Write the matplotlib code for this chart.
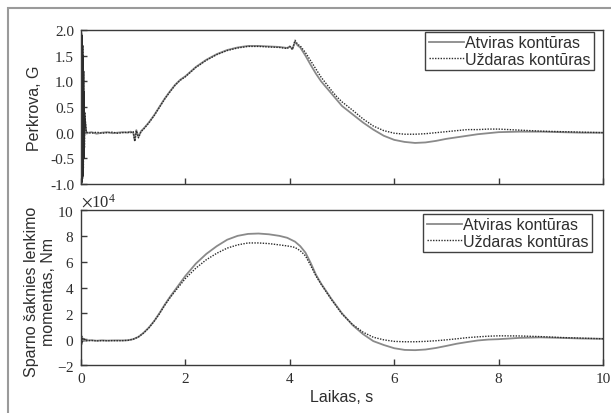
import matplotlib
matplotlib.use("Agg")
import matplotlib.pyplot as plt
from matplotlib.patches import Rectangle
from matplotlib.ticker import ScalarFormatter

# Perkrova (G) - laikas, s
t_g_open = [0.0, 0.03, 0.1, 0.2, 0.3, 0.4, 0.5, 0.6, 0.7, 0.8, 0.9,
            0.95, 1.0, 1.03, 1.06, 1.1, 1.15, 1.2, 1.3, 1.4, 1.5, 1.6, 1.7, 1.8, 1.9, 2.0,
            2.2, 2.4, 2.6, 2.8, 3.0, 3.2, 3.4, 3.6, 3.8, 3.95, 4.0, 4.05, 4.1, 4.15, 4.2,
            4.3, 4.4, 4.5, 4.6, 4.7, 4.8, 4.9, 5.0, 5.2, 5.4, 5.6, 5.8, 6.0, 6.2, 6.4,
            6.6, 6.8, 7.0, 7.2, 7.4, 7.6, 7.8, 8.0, 8.4, 8.8, 9.2, 9.6, 10.0]
g_open = [0.02, -0.01, -0.01, 0.01, -0.02, 0.0, 0.01, -0.01, 0.0, 0.01, 0.0,
          0.02, 0.0, -0.15, 0.05, -0.08, 0.03, 0.08, 0.2, 0.34, 0.5, 0.66, 0.8, 0.93, 1.03, 1.1,
          1.28, 1.42, 1.53, 1.61, 1.66, 1.69, 1.69, 1.68, 1.67, 1.65, 1.68, 1.63, 1.77, 1.7, 1.66,
          1.5, 1.32, 1.15, 1.0, 0.88, 0.76, 0.64, 0.52, 0.36, 0.2, 0.06, -0.06, -0.14, -0.18, -0.2,
          -0.19, -0.16, -0.12, -0.09, -0.06, -0.03, -0.01, 0.01, 0.02, 0.02, 0.01, 0.0, 0.0]

t_g_closed = [0.0, 0.004, 0.008, 0.012, 0.016, 0.02, 0.024, 0.028, 0.032, 0.036, 0.04, 0.045,
              0.05, 0.055, 0.06, 0.065, 0.07, 0.1, 0.2, 0.3, 0.4, 0.5, 0.6, 0.7, 0.8, 0.9,
              0.95, 1.0, 1.03, 1.06, 1.1, 1.15, 1.2, 1.3, 1.4, 1.5, 1.6, 1.7, 1.8, 1.9, 2.0,
              2.2, 2.4, 2.6, 2.8, 3.0, 3.2, 3.4, 3.6, 3.8, 3.95, 4.0, 4.05, 4.1, 4.15, 4.2,
              4.3, 4.4, 4.5, 4.6, 4.7, 4.8, 4.9, 5.0, 5.2, 5.4, 5.6, 5.8, 6.0, 6.2, 6.4,
              6.6, 6.8, 7.0, 7.2, 7.4, 7.6, 7.8, 8.0, 8.4, 8.8, 9.2, 9.6, 10.0]
g_closed = [2.0, -1.0, 1.95, -0.98, 1.9, -0.95, 1.85, -0.9, 1.7, -0.85, 1.5, -0.7,
            1.2, -0.5, 0.8, -0.3, 0.4, 0.01, -0.01, 0.01, -0.01, 0.0, 0.01, -0.01, 0.0, 0.01,
            0.0, 0.02, -0.17, 0.04, -0.1, 0.02, 0.07, 0.19, 0.33, 0.49, 0.65, 0.79, 0.92, 1.02, 1.09,
            1.27, 1.41, 1.52, 1.6, 1.65, 1.68, 1.68, 1.67, 1.66, 1.64, 1.68, 1.62, 1.8, 1.72, 1.69,
            1.56, 1.4, 1.24, 1.08, 0.95, 0.82, 0.7, 0.6, 0.44, 0.27, 0.13, 0.04, -0.01, -0.03, -0.03,
            -0.02, 0.0, 0.02, 0.04, 0.06, 0.06, 0.07, 0.07, 0.05, 0.03, 0.02, 0.01, 0.0]
n_start_burst = 18  # first samples of the closed-loop record (start-up transient)

# Sparno šaknies lenkimo momentas, Nm
t_m = [0.0, 0.01, 0.02, 0.04, 0.1, 0.2, 0.3, 0.4, 0.5, 0.6, 0.7, 0.8, 0.9, 1.0, 1.1,
       1.2, 1.3, 1.4, 1.5, 1.6, 1.7, 1.8, 1.9, 2.0, 2.2, 2.4, 2.6, 2.8, 3.0, 3.2,
       3.4, 3.6, 3.8, 3.95, 4.05, 4.1, 4.2, 4.3, 4.4, 4.5, 4.6, 4.7, 4.8, 4.9, 5.0,
       5.2, 5.4, 5.6, 5.8, 6.0, 6.2, 6.4, 6.6, 6.8, 7.0, 7.2, 7.4, 7.6, 7.8, 8.0,
       8.4, 8.8, 9.2, 9.6, 10.0]
m_open = [3000, -4000, 2000, -1500, -1000, -800, -1200, -900, -1100, -1000, -900, -1000, -800, 0, 1800,
          5000, 9000, 14000, 20000, 26500, 32500, 38000, 43500, 49000, 58500, 66000, 72000, 77000, 80000, 81500,
          81800, 81200, 80000, 78500, 76500, 75500, 72000, 67000, 59000, 50000, 43000, 37000, 31000, 25500, 20000,
          11000, 4000, -1500, -4500, -7000, -8300, -8500, -8000, -6800, -5200, -3500, -2200, -1000, -300, 0,
          1000, 1400, 1000, 500, 300]
m_closed = [-2000, 2500, -3000, 1000, -1200, -1000, -1300, -1100, -1200, -1100, -1200, -1100, -900, 0, 1700,
            4800, 8800, 13800, 19500, 26000, 31800, 37000, 42000, 47000, 55000, 61500, 66500, 70500, 73000, 74500,
            74500, 74000, 73000, 72200, 71500, 71000, 68500, 64500, 57000, 49000, 42500, 36500, 30500, 25000, 19500,
            11500, 5500, 1500, -500, -1700, -2000, -2000, -1700, -1200, -500, 300, 1200, 1800, 2300, 2600,
            2500, 2000, 1300, 800, 300]

series_labels = ["Atviras kontūras", "Uždaras kontūras"]
x_ticks = [0, 2, 4, 6, 8, 10]
g_ticks = [-1.0, -0.5, 0.0, 0.5, 1.0, 1.5, 2.0]
m_ticks = [-20000, 0, 20000, 40000, 60000, 80000, 100000]

plt.rcParams["font.family"] = ["Liberation Serif"]
plt.rcParams["mathtext.fontset"] = "stix"
plt.rcParams["axes.unicode_minus"] = False
sans = "Liberation Sans"
edge = "#3a3a3a"
txt_col = "#2e2e2e"

fig = plt.figure(figsize=(6.11, 4.14), dpi=100)
fig.patches.append(Rectangle((0.0131, -0.05), 1.1, 1.028, transform=fig.transFigure,
                             fill=False, edgecolor="#9a9a9a", linewidth=1.5))

ax1 = fig.add_axes([0.1326, 0.5531, 0.8543, 0.372])
ax2 = fig.add_axes([0.1326, 0.1159, 0.8543, 0.3744])

open_style = dict(color="#8a8a8a", linewidth=1.3, linestyle="-")
closed_style = dict(color="#2b2b2b", linewidth=1.0, linestyle=(0, (1, 1)))

ax1.plot(t_g_open, g_open, label=series_labels[0], **open_style)
ax1.plot(t_g_closed, g_closed, label=series_labels[1], **closed_style)
# the start-up burst is so dense that the dots merge into a solid band
ax1.plot(t_g_closed[:n_start_burst], g_closed[:n_start_burst], color="#2b2b2b", linewidth=0.9)
ax2.plot(t_m, m_open, label=series_labels[0], **open_style)
ax2.plot(t_m, m_closed, label=series_labels[1], **closed_style)

ax1.set_xlim(0, 10)
ax1.set_ylim(-1.0, 2.0)
ax1.set_xticks(x_ticks)
ax1.set_xticklabels([])
ax1.set_yticks(g_ticks)
ax1.set_yticklabels([f"{v:.1f}" for v in g_ticks])
ax1.set_ylabel("Perkrova, G", fontfamily=sans, fontsize=11.5, color=txt_col)
ax1.yaxis.set_label_coords(-0.075, 0.5)

ax2.set_xlim(0, 10)
ax2.set_ylim(-20000, 100000)
ax2.set_xticks(x_ticks)
ax2.set_yticks(m_ticks)
fmt = ScalarFormatter(useMathText=True)
fmt.set_powerlimits((4, 4))
ax2.yaxis.set_major_formatter(fmt)
ax2.yaxis.get_offset_text().set_fontsize(12)
ax2.yaxis.get_offset_text().set_color(txt_col)
ax2.set_ylabel("Sparno šaknies lenkimo\nmomentas, Nm", fontfamily=sans, fontsize=11.5,
               color=txt_col, linespacing=1.15)
ax2.yaxis.set_label_coords(-0.048, 0.48)
ax2.set_xlabel("Laikas, s", fontfamily=sans, fontsize=11.5, color=txt_col, labelpad=3)

legend_anchor = {ax1: (0.9828, 0.987), ax2: (0.979, 0.974)}
for ax in (ax1, ax2):
    for s in ax.spines.values():
        s.set_color(edge)
        s.set_linewidth(1.0)
    ax.tick_params(direction="in", length=4, width=1, color=edge, labelcolor=txt_col,
                   labelsize=11)
    ax.tick_params(axis="y", pad=5)
    ax.tick_params(axis="x", pad=5)
    leg = ax.legend(loc="upper right", bbox_to_anchor=legend_anchor[ax],
                    prop={"family": sans, "size": 11.5},
                    frameon=True, fancybox=False, borderaxespad=0,
                    handlelength=2.2, handletextpad=0.1, labelspacing=0.1,
                    borderpad=0.2)
    leg.get_frame().set_edgecolor("#111111")
    leg.get_frame().set_linewidth(1.0)
    for txt in leg.get_texts():
        txt.set_color(txt_col)

fig.savefig("out.png", dpi=100)
